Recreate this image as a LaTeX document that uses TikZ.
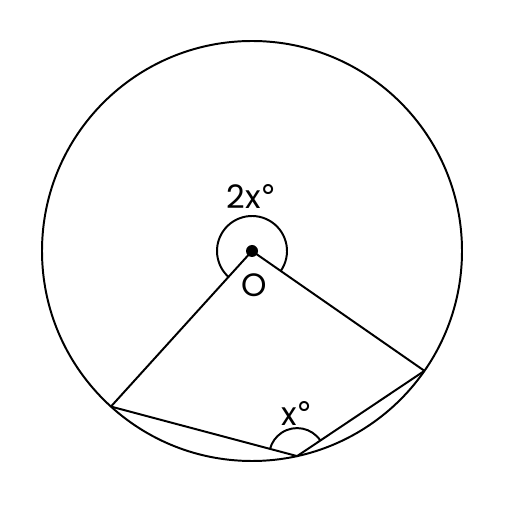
\documentclass[tikz,border=0pt]{standalone}
\usepackage{fontspec}
\setmainfont{Poppins}
\newfontfamily\symfont{DejaVu Sans}
\usetikzlibrary{positioning}

\newcommand{\degmark}{{\symfont °}}

\tikzset{
    edge/.style={line width=1.4pt},
    anglemark/.style={line width=1.4pt},
    lbl/.style={font=\fontsize{23}{26}\selectfont, inner sep=0pt}
}

\begin{document}
\begin{tikzpicture}
    \useasboundingbox (-6.3, -6.35) rectangle (6.3, 6.275);

    % Circle and centre
    \coordinate (O) at (0, 0);
    \draw [edge] (O) circle [radius=5.25cm];

    % Points on the circle
    \coordinate (A) at (227.8:5.25);
    \coordinate (B) at (325.2:5.25);
    \coordinate (C) at (282.4:5.25);

    % Angle marks
    \draw [anglemark] (O) ++(325.2:0.875) arc [start angle=-34.8, end angle=227.8, radius=0.875];
    \draw [anglemark] (C) ++(33.8:0.7) arc [start angle=33.8, end angle=165.2, radius=0.7];

    % Edges
    \draw [edge] (A) -- (O) -- (B);
    \draw [edge] (A) -- (C) -- (B);

    % Centre dot
    \fill (O) circle [radius=0.15];

    % Labels
    \node [lbl] (twox) at (0, 1.35) {2x\degmark};
    \node [lbl] (olbl) at (0.05, -0.85) {O};
    \node [lbl] (xlbl) at (1.125, -4.05) {x\degmark};
\end{tikzpicture}
\end{document}
